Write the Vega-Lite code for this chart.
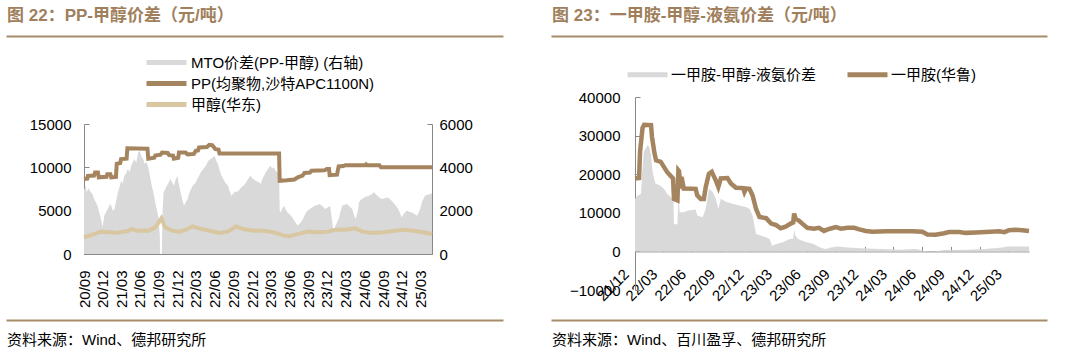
{
  "$schema": "https://vega.github.io/schema/vega-lite/v6.json",
  "background": "white",
  "padding": {"left": 7, "top": 7, "right": 5, "bottom": 5},
  "config": {
    "view": {"stroke": null},
    "font": "Liberation Sans, Noto Sans CJK SC",
    "axis": {"labelFont": "Liberation Sans", "labelFontSize": 15, "labelColor": "#000000", "domainColor": "#888888", "tickColor": "#888888", "grid": false, "title": null, "labelFlush": false, "labelOverlap": false},
    "legend": {"labelFont": "Liberation Sans, Noto Sans CJK SC", "labelFontSize": 15, "labelColor": "#000000", "labelLimit": 400}
  },
  "datasets": {
    "mto": [
      {"d":"2020-09-01","v":2950},{"d":"2020-09-08","v":3150},{"d":"2020-09-15","v":2850},{"d":"2020-09-22","v":3050},{"d":"2020-10-01","v":2900},{"d":"2020-10-12","v":2770},{"d":"2020-10-20","v":2550},{"d":"2020-11-06","v":2230},{"d":"2020-11-15","v":1900},{"d":"2020-11-23","v":1615},{"d":"2020-12-01","v":1230},{"d":"2020-12-09","v":1770},{"d":"2020-12-18","v":1950},{"d":"2020-12-26","v":2080},
      {"d":"2021-01-05","v":2300},{"d":"2021-01-12","v":2230},{"d":"2021-01-20","v":2000},{"d":"2021-01-28","v":2080},{"d":"2021-02-06","v":2500},{"d":"2021-02-14","v":2850},{"d":"2021-02-22","v":3100},{"d":"2021-03-01","v":3380},{"d":"2021-03-09","v":3250},{"d":"2021-03-17","v":3620},{"d":"2021-03-25","v":3700},{"d":"2021-04-03","v":3920},{"d":"2021-04-12","v":3800},{"d":"2021-04-20","v":4080},{"d":"2021-04-28","v":4250},{"d":"2021-05-06","v":4380},{"d":"2021-05-14","v":4200},{"d":"2021-05-23","v":4690},{"d":"2021-06-01","v":4770},{"d":"2021-06-08","v":4500},{"d":"2021-06-17","v":4380},{"d":"2021-06-25","v":4150},{"d":"2021-07-03","v":4250},{"d":"2021-07-12","v":4000},{"d":"2021-07-20","v":3600},{"d":"2021-07-29","v":3150},{"d":"2021-08-07","v":2800},{"d":"2021-08-15","v":2380},{"d":"2021-08-24","v":2000},{"d":"2021-09-01","v":1615},{"d":"2021-09-06","v":900},{"d":"2021-09-08","v":0},{"d":"2021-09-16","v":0},{"d":"2021-09-20","v":2000},{"d":"2021-09-25","v":2850},{"d":"2021-10-03","v":3000},{"d":"2021-10-11","v":3150},{"d":"2021-10-20","v":3300},{"d":"2021-10-28","v":3460},{"d":"2021-11-06","v":3300},{"d":"2021-11-14","v":3150},{"d":"2021-11-22","v":3400},{"d":"2021-12-01","v":3620},{"d":"2021-12-09","v":3200},{"d":"2021-12-17","v":2850},{"d":"2021-12-25","v":2500},
      {"d":"2022-01-03","v":2230},{"d":"2022-01-12","v":2400},{"d":"2022-01-20","v":2540},{"d":"2022-01-28","v":2800},{"d":"2022-02-06","v":3000},{"d":"2022-02-14","v":3150},{"d":"2022-03-01","v":3300},{"d":"2022-03-09","v":3500},{"d":"2022-03-17","v":3600},{"d":"2022-03-25","v":3770},{"d":"2022-04-05","v":3900},{"d":"2022-04-20","v":4080},{"d":"2022-04-28","v":4250},{"d":"2022-05-06","v":4350},{"d":"2022-05-14","v":4380},{"d":"2022-05-23","v":4450},{"d":"2022-06-01","v":4540},{"d":"2022-06-09","v":4300},{"d":"2022-06-17","v":4150},{"d":"2022-06-25","v":3900},{"d":"2022-07-04","v":3620},{"d":"2022-07-12","v":3500},{"d":"2022-07-22","v":3300},{"d":"2022-08-06","v":3150},{"d":"2022-08-14","v":2900},{"d":"2022-08-22","v":2690},{"d":"2022-09-01","v":2800},{"d":"2022-09-09","v":2900},{"d":"2022-09-17","v":2850},{"d":"2022-10-03","v":3000},{"d":"2022-10-12","v":3100},{"d":"2022-10-20","v":3150},{"d":"2022-10-28","v":3230},{"d":"2022-11-08","v":3400},{"d":"2022-11-23","v":3620},{"d":"2022-12-01","v":3500},{"d":"2022-12-09","v":3450},{"d":"2022-12-17","v":3380},
      {"d":"2023-01-05","v":3300},{"d":"2023-01-12","v":3230},{"d":"2023-01-20","v":3450},{"d":"2023-02-06","v":3770},{"d":"2023-02-15","v":3900},{"d":"2023-03-01","v":4080},{"d":"2023-03-09","v":3950},{"d":"2023-03-17","v":4000},{"d":"2023-03-25","v":3850},{"d":"2023-04-03","v":3770},{"d":"2023-04-12","v":3620},{"d":"2023-04-15","v":2000},{"d":"2023-04-20","v":1920},{"d":"2023-04-28","v":2100},{"d":"2023-05-06","v":2230},{"d":"2023-05-14","v":2050},{"d":"2023-05-23","v":1920},{"d":"2023-06-01","v":1850},{"d":"2023-06-09","v":1770},{"d":"2023-06-18","v":1650},{"d":"2023-06-26","v":1540},{"d":"2023-07-05","v":1400},{"d":"2023-07-12","v":1310},{"d":"2023-07-20","v":1400},{"d":"2023-07-28","v":1460},{"d":"2023-08-06","v":1600},{"d":"2023-08-14","v":1770},{"d":"2023-08-24","v":1950},{"d":"2023-09-09","v":2080},{"d":"2023-09-20","v":2150},{"d":"2023-10-03","v":2230},{"d":"2023-10-15","v":2250},{"d":"2023-10-28","v":2310},{"d":"2023-11-10","v":2200},{"d":"2023-11-23","v":2080},{"d":"2023-12-05","v":2150},{"d":"2023-12-17","v":2230},{"d":"2023-12-26","v":1615},
      {"d":"2024-01-03","v":1000},{"d":"2024-01-12","v":1300},{"d":"2024-01-28","v":1615},{"d":"2024-02-06","v":1950},{"d":"2024-02-14","v":2230},{"d":"2024-03-01","v":2280},{"d":"2024-03-09","v":2310},{"d":"2024-03-20","v":2200},{"d":"2024-04-03","v":2080},{"d":"2024-04-12","v":1800},{"d":"2024-04-20","v":1615},{"d":"2024-05-01","v":2000},{"d":"2024-05-06","v":2380},{"d":"2024-05-15","v":2500},{"d":"2024-05-23","v":2550},{"d":"2024-06-01","v":2610},{"d":"2024-06-12","v":2650},{"d":"2024-06-25","v":2690},{"d":"2024-07-05","v":2750},{"d":"2024-07-12","v":2800},{"d":"2024-07-20","v":2850},{"d":"2024-07-28","v":2750},{"d":"2024-08-06","v":2690},{"d":"2024-08-14","v":2600},{"d":"2024-08-22","v":2560},{"d":"2024-09-01","v":2540},{"d":"2024-09-12","v":2580},{"d":"2024-09-25","v":2610},{"d":"2024-10-08","v":2500},{"d":"2024-10-20","v":2380},{"d":"2024-11-01","v":2250},{"d":"2024-11-14","v":2080},{"d":"2024-11-22","v":1900},{"d":"2024-12-01","v":1690},{"d":"2024-12-10","v":1850},{"d":"2024-12-25","v":2000},
      {"d":"2025-01-08","v":1950},{"d":"2025-01-20","v":1920},{"d":"2025-02-01","v":1850},{"d":"2025-02-14","v":1770},{"d":"2025-03-01","v":2080},{"d":"2025-03-10","v":2400},{"d":"2025-03-25","v":2690},{"d":"2025-04-10","v":2750},{"d":"2025-04-20","v":2770},{"d":"2025-04-28","v":2800}
    ],
    "lp": [
      {"d":"2020-09-01","s":"PP","v":8650},{"d":"2020-09-17","s":"PP","v":8700},{"d":"2020-09-20","s":"PP","v":9000},{"d":"2020-10-20","s":"PP","v":9050},{"d":"2020-10-25","s":"PP","v":9400},{"d":"2020-11-08","s":"PP","v":9400},{"d":"2020-11-12","s":"PP","v":8850},{"d":"2020-12-20","s":"PP","v":8900},{"d":"2020-12-24","s":"PP","v":9200},{"d":"2021-01-08","s":"PP","v":9200},{"d":"2021-01-12","s":"PP","v":8850},{"d":"2021-02-04","s":"PP","v":8900},{"d":"2021-02-08","s":"PP","v":10400},{"d":"2021-02-25","s":"PP","v":10500},{"d":"2021-03-01","s":"PP","v":10950},{"d":"2021-03-28","s":"PP","v":11000},{"d":"2021-04-01","s":"PP","v":12200},{"d":"2021-07-08","s":"PP","v":12150},{"d":"2021-07-12","s":"PP","v":11000},{"d":"2021-08-10","s":"PP","v":11100},{"d":"2021-08-15","s":"PP","v":11350},{"d":"2021-09-10","s":"PP","v":11450},{"d":"2021-09-17","s":"PP","v":11700},{"d":"2021-10-15","s":"PP","v":11650},{"d":"2021-10-22","s":"PP","v":11400},{"d":"2021-11-10","s":"PP","v":11350},{"d":"2021-11-14","s":"PP","v":11000},{"d":"2021-12-05","s":"PP","v":11100},{"d":"2021-12-09","s":"PP","v":11700},{"d":"2022-01-10","s":"PP","v":11700},{"d":"2022-01-20","s":"PP","v":11500},{"d":"2022-02-20","s":"PP","v":11550},{"d":"2022-03-01","s":"PP","v":11900},{"d":"2022-03-12","s":"PP","v":11950},{"d":"2022-03-17","s":"PP","v":12300},{"d":"2022-04-25","s":"PP","v":12350},{"d":"2022-05-06","s":"PP","v":12600},{"d":"2022-05-20","s":"PP","v":12550},{"d":"2022-06-05","s":"PP","v":12100},{"d":"2022-06-20","s":"PP","v":12050},{"d":"2022-06-25","s":"PP","v":11600},{"d":"2023-04-12","s":"PP","v":11600},{"d":"2023-04-15","s":"PP","v":8450},{"d":"2023-05-20","s":"PP","v":8500},{"d":"2023-06-26","s":"PP","v":8600},{"d":"2023-07-12","s":"PP","v":8850},{"d":"2023-08-05","s":"PP","v":9050},{"d":"2023-08-14","s":"PP","v":9350},{"d":"2023-09-10","s":"PP","v":9400},{"d":"2023-09-17","s":"PP","v":9600},{"d":"2023-11-20","s":"PP","v":9650},{"d":"2023-12-01","s":"PP","v":9800},{"d":"2023-12-12","s":"PP","v":9800},{"d":"2023-12-15","s":"PP","v":9100},{"d":"2024-01-20","s":"PP","v":9150},{"d":"2024-01-28","s":"PP","v":10100},{"d":"2024-02-20","s":"PP","v":10150},{"d":"2024-03-01","s":"PP","v":10250},{"d":"2024-06-05","s":"PP","v":10250},{"d":"2024-06-10","s":"PP","v":10350},{"d":"2024-06-15","s":"PP","v":10250},{"d":"2024-08-14","s":"PP","v":10250},{"d":"2024-08-22","s":"PP","v":10000},{"d":"2025-04-28","s":"PP","v":10000},
      {"d":"2020-09-01","s":"MEOH","v":1920},{"d":"2020-10-01","s":"MEOH","v":2150},{"d":"2020-10-20","s":"MEOH","v":2300},{"d":"2020-11-23","s":"MEOH","v":2580},{"d":"2020-12-15","s":"MEOH","v":2550},{"d":"2021-01-12","s":"MEOH","v":2500},{"d":"2021-02-14","s":"MEOH","v":2420},{"d":"2021-03-09","s":"MEOH","v":2580},{"d":"2021-04-03","s":"MEOH","v":2650},{"d":"2021-04-20","s":"MEOH","v":2880},{"d":"2021-05-23","s":"MEOH","v":2690},{"d":"2021-06-20","s":"MEOH","v":2700},{"d":"2021-07-12","s":"MEOH","v":2690},{"d":"2021-08-15","s":"MEOH","v":3080},{"d":"2021-09-01","s":"MEOH","v":3650},{"d":"2021-09-14","s":"MEOH","v":4115},{"d":"2021-09-25","s":"MEOH","v":3500},{"d":"2021-10-03","s":"MEOH","v":3080},{"d":"2021-11-06","s":"MEOH","v":2690},{"d":"2021-12-09","s":"MEOH","v":2580},{"d":"2022-01-12","s":"MEOH","v":2810},{"d":"2022-02-14","s":"MEOH","v":3190},{"d":"2022-03-17","s":"MEOH","v":2960},{"d":"2022-05-06","s":"MEOH","v":2690},{"d":"2022-06-25","s":"MEOH","v":2420},{"d":"2022-08-06","s":"MEOH","v":2600},{"d":"2022-09-14","s":"MEOH","v":3190},{"d":"2022-10-20","s":"MEOH","v":2880},{"d":"2022-12-09","s":"MEOH","v":2690},{"d":"2023-01-28","s":"MEOH","v":2690},{"d":"2023-03-17","s":"MEOH","v":2500},{"d":"2023-05-06","s":"MEOH","v":2120},{"d":"2023-06-01","s":"MEOH","v":2040},{"d":"2023-07-12","s":"MEOH","v":2300},{"d":"2023-09-01","s":"MEOH","v":2580},{"d":"2023-10-20","s":"MEOH","v":2500},{"d":"2023-12-09","s":"MEOH","v":2580},{"d":"2024-01-12","s":"MEOH","v":2810},{"d":"2024-03-01","s":"MEOH","v":2810},{"d":"2024-04-20","s":"MEOH","v":2960},{"d":"2024-05-23","s":"MEOH","v":2580},{"d":"2024-07-12","s":"MEOH","v":2420},{"d":"2024-09-01","s":"MEOH","v":2500},{"d":"2024-10-20","s":"MEOH","v":2650},{"d":"2024-12-09","s":"MEOH","v":2810},{"d":"2025-01-28","s":"MEOH","v":2690},{"d":"2025-03-17","s":"MEOH","v":2500},{"d":"2025-04-28","s":"MEOH","v":2300}
    ],
    "ma": [
      {"d":"2021-12-01","v":18900},{"d":"2021-12-14","v":19000},{"d":"2021-12-17","v":25800},{"d":"2021-12-25","v":32000},{"d":"2021-12-30","v":32800},{"d":"2022-01-21","v":32700},{"d":"2022-01-24","v":29700},{"d":"2022-02-01","v":25400},{"d":"2022-02-06","v":23600},{"d":"2022-02-21","v":23200},{"d":"2022-03-03","v":21900},{"d":"2022-03-13","v":20600},{"d":"2022-03-24","v":19600},{"d":"2022-04-01","v":18900},{"d":"2022-04-04","v":13600},{"d":"2022-04-15","v":13200},{"d":"2022-04-18","v":21000},{"d":"2022-04-20","v":20800},{"d":"2022-04-25","v":16300},{"d":"2022-04-28","v":19300},{"d":"2022-05-05","v":16300},{"d":"2022-06-12","v":16200},{"d":"2022-06-17","v":14500},{"d":"2022-06-28","v":13600},{"d":"2022-07-08","v":13600},{"d":"2022-07-14","v":16700},{"d":"2022-07-24","v":20100},{"d":"2022-08-02","v":20600},{"d":"2022-08-15","v":18400},{"d":"2022-08-23","v":16700},{"d":"2022-08-31","v":18900},{"d":"2022-09-21","v":19000},{"d":"2022-10-02","v":17600},{"d":"2022-10-18","v":16500},{"d":"2022-11-10","v":16400},{"d":"2022-11-14","v":15400},{"d":"2022-11-19","v":16300},{"d":"2022-11-30","v":16200},{"d":"2022-12-10","v":14500},{"d":"2022-12-21","v":11000},{"d":"2023-01-01","v":8900},{"d":"2023-01-22","v":8600},{"d":"2023-02-07","v":7200},{"d":"2023-02-23","v":6800},{"d":"2023-03-09","v":6000},{"d":"2023-03-25","v":6400},{"d":"2023-04-10","v":7200},{"d":"2023-04-18","v":7500},{"d":"2023-04-21","v":9800},{"d":"2023-04-26","v":8500},{"d":"2023-05-06","v":8000},{"d":"2023-05-17","v":7200},{"d":"2023-06-02","v":6100},{"d":"2023-06-23","v":5900},{"d":"2023-07-09","v":6100},{"d":"2023-07-25","v":5300},{"d":"2023-08-10","v":5800},{"d":"2023-09-01","v":6300},{"d":"2023-09-17","v":5900},{"d":"2023-10-08","v":6100},{"d":"2023-10-29","v":6100},{"d":"2023-11-14","v":5700},{"d":"2023-12-05","v":5300},{"d":"2023-12-26","v":5100},{"d":"2024-02-08","v":5200},{"d":"2024-03-20","v":5200},{"d":"2024-05-01","v":5200},{"d":"2024-06-02","v":5100},{"d":"2024-06-18","v":4400},{"d":"2024-07-14","v":4300},{"d":"2024-08-10","v":4700},{"d":"2024-08-26","v":5000},{"d":"2024-09-27","v":5000},{"d":"2024-10-18","v":4800},{"d":"2024-11-19","v":4900},{"d":"2024-12-21","v":5000},{"d":"2025-02-02","v":5200},{"d":"2025-02-18","v":5000},{"d":"2025-03-04","v":5500},{"d":"2025-03-25","v":5600},{"d":"2025-04-16","v":5500},{"d":"2025-05-07","v":5300}
    ],
    "sp": [
      {"d":"2021-12-01","v":13650},{"d":"2021-12-10","v":14500},{"d":"2021-12-20","v":14960},{"d":"2021-12-24","v":20600},{"d":"2021-12-29","v":25800},{"d":"2022-01-10","v":27570},{"d":"2022-01-15","v":27130},{"d":"2022-01-21","v":24960},{"d":"2022-01-26","v":20600},{"d":"2022-02-04","v":17570},{"d":"2022-02-17","v":17130},{"d":"2022-03-03","v":16260},{"d":"2022-03-13","v":14960},{"d":"2022-03-24","v":14090},{"d":"2022-04-02","v":13500},{"d":"2022-04-04","v":7050},{"d":"2022-04-15","v":7050},{"d":"2022-04-18","v":14500},{"d":"2022-04-22","v":10170},{"d":"2022-05-05","v":10170},{"d":"2022-05-20","v":10610},{"d":"2022-06-12","v":10870},{"d":"2022-06-17","v":9300},{"d":"2022-07-04","v":8870},{"d":"2022-07-14","v":11040},{"d":"2022-07-24","v":16260},{"d":"2022-08-05","v":15390},{"d":"2022-08-15","v":13650},{"d":"2022-08-23","v":11040},{"d":"2022-08-31","v":13650},{"d":"2022-09-17","v":12780},{"d":"2022-10-08","v":12350},{"d":"2022-10-28","v":11910},{"d":"2022-11-19","v":11480},{"d":"2022-11-30","v":11040},{"d":"2022-12-10","v":9300},{"d":"2022-12-21","v":4520},{"d":"2023-01-05","v":4090},{"d":"2023-01-22","v":3650},{"d":"2023-02-02","v":3220},{"d":"2023-02-10","v":1480},{"d":"2023-02-24","v":1900},{"d":"2023-03-16","v":2350},{"d":"2023-04-07","v":3200},{"d":"2023-04-18","v":3300},{"d":"2023-04-21","v":5700},{"d":"2023-04-25","v":4100},{"d":"2023-05-04","v":3200},{"d":"2023-05-15","v":2800},{"d":"2023-06-01","v":2350},{"d":"2023-06-22","v":1900},{"d":"2023-07-13","v":1040},{"d":"2023-07-29","v":600},{"d":"2023-08-16","v":1040},{"d":"2023-09-07","v":1300},{"d":"2023-10-09","v":1040},{"d":"2023-12-03","v":780},{"d":"2024-01-27","v":600},{"d":"2024-03-20","v":430},{"d":"2024-05-14","v":600},{"d":"2024-06-05","v":100},{"d":"2024-07-10","v":0},{"d":"2024-08-10","v":350},{"d":"2024-10-25","v":430},{"d":"2024-12-18","v":600},{"d":"2025-02-11","v":1040},{"d":"2025-02-28","v":1300},{"d":"2025-04-05","v":1300},{"d":"2025-05-07","v":1250}
    ]
  },
  "spacing": -29,
  "resolve": {"scale": {"x": "independent", "y": "independent", "color": "independent"}, "legend": {"color": "independent"}, "axis": {"x": "independent", "y": "independent"}},
  "hconcat": [
    {
      "bounds": "flush",
      "spacing": 0,
      "resolve": {"scale": {"x": "independent", "y": "independent", "color": "independent"}, "legend": {"color": "independent"}, "axis": {"x": "independent", "y": "independent"}},
      "vconcat": [
        {
          "width": 348, "height": 88,
          "data": {"values": []},
          "mark": "point",
          "encoding": {"x": {"field": "x", "type": "quantitative", "scale": {"domain": [0, 1], "range": [-78, 419]}, "axis": {"orient": "top", "domainColor": "#A88B6B", "domainWidth": 2, "ticks": false, "labels": false, "title": null, "minExtent": 0, "maxExtent": 0}}},
          "title": {"text": "图 22：PP-甲醇价差（元/吨）", "anchor": "start", "frame": "group", "dx": -77, "offset": -2, "baseline": "alphabetic", "font": "Liberation Sans, Noto Sans CJK SC", "fontSize": 17, "fontWeight": "bold", "color": "#A0805C"}
        },
        {
          "width": 348, "height": 130,
          "encoding": {
            "x": {"field": "d", "type": "temporal", "scale": {"type": "utc", "domain": [{"year": 2020, "month": 9, "date": 1, "utc": true}, {"year": 2025, "month": 4, "date": 28, "utc": true}]},
              "axis": {"orient": "bottom", "labelExpr": "utcFormat(datum.value, '%y/%m')", "labelOverlap": false, "labelAngle": -90, "tickSize": -5, "labelPadding": 21,
                "values": [{"year":2020,"month":9,"date":1,"utc":true},{"year":2020,"month":12,"date":1,"utc":true},{"year":2021,"month":3,"date":1,"utc":true},{"year":2021,"month":6,"date":1,"utc":true},{"year":2021,"month":9,"date":1,"utc":true},{"year":2021,"month":12,"date":1,"utc":true},{"year":2022,"month":3,"date":1,"utc":true},{"year":2022,"month":6,"date":1,"utc":true},{"year":2022,"month":9,"date":1,"utc":true},{"year":2022,"month":12,"date":1,"utc":true},{"year":2023,"month":3,"date":1,"utc":true},{"year":2023,"month":6,"date":1,"utc":true},{"year":2023,"month":9,"date":1,"utc":true},{"year":2023,"month":12,"date":1,"utc":true},{"year":2024,"month":3,"date":1,"utc":true},{"year":2024,"month":6,"date":1,"utc":true},{"year":2024,"month":9,"date":1,"utc":true},{"year":2024,"month":12,"date":1,"utc":true},{"year":2025,"month":3,"date":1,"utc":true}]}}
          },
          "layer": [
            {
              "data": {"name": "mto"},
              "mark": {"type": "area", "opacity": 1},
              "encoding": {
                "y": {"field": "v", "type": "quantitative", "scale": {"domain": [0, 6000]}, "axis": {"orient": "right", "values": [0, 2000, 4000, 6000], "format": "d", "labelOverlap": false, "tickSize": -5, "labelPadding": 12}},
                "color": {"datum": "MTO", "type": "nominal", "title": null,
                  "scale": {"domain": ["MTO", "PP", "MEOH"], "range": ["#D9D9D9", "#A5855F", "#D8C7A0"]},
                  "legend": {"orient": "none", "legendX": 72, "legendY": -72, "direction": "vertical", "title": null,
                    "symbolType": "M-2.5,0H2.5", "symbolSize": 256, "symbolStrokeWidth": 5, "rowPadding": 0, "labelOffset": 14,
                    "labelExpr": "datum.value === 'MTO' ? 'MTO价差(PP-甲醇) (右轴)' : datum.value === 'PP' ? 'PP(均聚物,沙特APC1100N)' : '甲醇(华东)'",
                    "encode": {"symbols": {"update": {"strokeCap": {"signal": "datum.value === 'MTO' ? 'butt' : 'round'"}, "strokeWidth": {"signal": "datum.value === 'MTO' ? 7 : 5"}, "stroke": {"signal": "datum.value === 'MTO' ? '#D9D9D9' : datum.value === 'PP' ? '#A5855F' : '#D8C7A0'"}}}}}
                }
              }
            },
            {
              "data": {"name": "lp"},
              "mark": {"type": "line", "strokeWidth": 4},
              "encoding": {
                "y": {"field": "v", "type": "quantitative", "scale": {"domain": [0, 15000]}, "axis": {"orient": "left", "values": [0, 5000, 10000, 15000], "format": "d", "labelOverlap": false, "tickSize": -5, "labelPadding": 18}},
                "color": {"field": "s", "type": "nominal", "title": null}
              }
            }
          ],
          "resolve": {"scale": {"y": "independent"}}
        },
        {
          "width": 348, "height": 66,
          "data": {"values": []},
          "mark": "point",
          "encoding": {"x": {"field": "x", "type": "quantitative", "scale": {"domain": [0, 1], "range": [-78, 419]}, "axis": {"orient": "bottom", "domainColor": "#A88B6B", "domainWidth": 2, "ticks": false, "labels": false, "title": null, "minExtent": 0, "maxExtent": 0}}},
          "title": {"text": "资料来源：Wind、德邦研究所", "orient": "bottom", "anchor": "start", "frame": "group", "dx": -77, "offset": 13, "baseline": "top", "font": "Liberation Sans, Noto Sans CJK SC", "fontSize": 15, "fontWeight": "normal", "color": "#000000"}
        }
      ]
    },
    {
      "bounds": "flush",
      "spacing": 0,
      "resolve": {"scale": {"x": "independent", "y": "independent", "color": "independent"}, "legend": {"color": "independent"}, "axis": {"x": "independent", "y": "independent"}},
      "vconcat": [
        {
          "width": 394, "height": 61,
          "data": {"values": []},
          "mark": "point",
          "encoding": {"x": {"field": "x", "type": "quantitative", "scale": {"domain": [0, 1], "range": [-84, 412]}, "axis": {"orient": "top", "domainColor": "#A88B6B", "domainWidth": 2, "ticks": false, "labels": false, "title": null, "minExtent": 0, "maxExtent": 0}}},
          "title": {"text": "图 23：一甲胺-甲醇-液氨价差（元/吨）", "anchor": "start", "frame": "group", "dx": -83, "offset": -2, "baseline": "alphabetic", "font": "Liberation Sans, Noto Sans CJK SC", "fontSize": 17, "fontWeight": "bold", "color": "#A0805C"}
        },
        {
          "width": 394, "height": 193,
          "encoding": {
            "x": {"field": "d", "type": "temporal", "scale": {"type": "utc", "domain": [{"year": 2021, "month": 12, "date": 1, "utc": true}, {"year": 2025, "month": 5, "date": 7, "utc": true}]},
              "axis": {"orient": "bottom", "offset": -38.6, "labelExpr": "utcFormat(datum.value, '%y/%m')", "labelOverlap": false, "labelAngle": -45, "tickSize": -5, "labelPadding": 20, "labelOffset": -14,
                "values": [{"year":2021,"month":12,"date":1,"utc":true},{"year":2022,"month":3,"date":1,"utc":true},{"year":2022,"month":6,"date":1,"utc":true},{"year":2022,"month":9,"date":1,"utc":true},{"year":2022,"month":12,"date":1,"utc":true},{"year":2023,"month":3,"date":1,"utc":true},{"year":2023,"month":6,"date":1,"utc":true},{"year":2023,"month":9,"date":1,"utc":true},{"year":2023,"month":12,"date":1,"utc":true},{"year":2024,"month":3,"date":1,"utc":true},{"year":2024,"month":6,"date":1,"utc":true},{"year":2024,"month":9,"date":1,"utc":true},{"year":2024,"month":12,"date":1,"utc":true},{"year":2025,"month":3,"date":1,"utc":true}]}},
            "y": {"field": "v", "type": "quantitative", "scale": {"domain": [-10000, 40000], "nice": false, "zero": false}, "axis": {"orient": "left", "values": [-10000, 0, 10000, 20000, 30000, 40000], "format": "d", "labelOverlap": false, "tickSize": -5, "labelPadding": 20}}
          },
          "layer": [
            {
              "data": {"name": "sp"},
              "mark": {"type": "area", "opacity": 1},
              "encoding": {
                "color": {"datum": "SP", "type": "nominal", "title": null,
                  "scale": {"domain": ["SP", "MA"], "range": ["#D9D9D9", "#A5855F"]},
                  "legend": {"orient": "none", "legendX": 2, "legendY": -33, "direction": "horizontal", "title": null,
                    "symbolType": "M-2.5,0H2.5", "symbolSize": 256, "symbolStrokeWidth": 5, "columnPadding": 21, "labelOffset": 13,
                    "labelExpr": "datum.value === 'SP' ? '一甲胺-甲醇-液氨价差' : '一甲胺(华鲁)'",
                    "encode": {"symbols": {"update": {"strokeCap": {"signal": "datum.value === 'SP' ? 'butt' : 'round'"}, "strokeWidth": {"signal": "datum.value === 'SP' ? 7 : 5"}, "stroke": {"signal": "datum.value === 'SP' ? '#D9D9D9' : '#A5855F'"}}}}}
                }
              }
            },
            {
              "data": {"name": "ma"},
              "mark": {"type": "line", "strokeWidth": 4.5},
              "encoding": {
                "color": {"datum": "MA", "type": "nominal", "title": null}
              }
            }
          ]
        },
        {
          "width": 394, "height": 30,
          "data": {"values": []},
          "mark": "point",
          "encoding": {"x": {"field": "x", "type": "quantitative", "scale": {"domain": [0, 1], "range": [-84, 412]}, "axis": {"orient": "bottom", "domainColor": "#A88B6B", "domainWidth": 2, "ticks": false, "labels": false, "title": null, "minExtent": 0, "maxExtent": 0}}},
          "title": {"text": "资料来源：Wind、百川盈孚、德邦研究所", "orient": "bottom", "anchor": "start", "frame": "group", "dx": -83, "offset": 13, "baseline": "top", "font": "Liberation Sans, Noto Sans CJK SC", "fontSize": 15, "fontWeight": "normal", "color": "#000000"}
        }
      ]
    }
  ]
}
